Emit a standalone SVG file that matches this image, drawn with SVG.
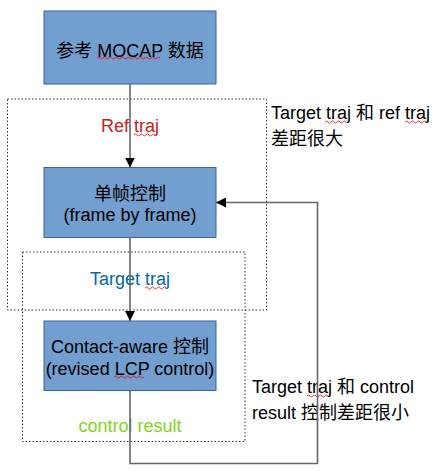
<svg xmlns="http://www.w3.org/2000/svg" width="440" height="471" viewBox="0 0 440 471">
<style>
.box{fill:#729fcf;stroke:#3465a4;stroke-width:1}
.dot{fill:none;stroke:#333;stroke-width:1;stroke-dasharray:1.5 2}
.t{font-family:"Liberation Sans","Noto Sans CJK SC",sans-serif;font-size:18px;fill:#000}
.c{text-anchor:middle}
.ln{fill:none;stroke:#666;stroke-width:1.6}
.sq{fill:none;stroke:#e00;stroke-width:0.8}
</style>
<defs>
<marker id="ah" viewBox="0 0 10 10" refX="10" refY="5" markerWidth="10" markerHeight="10" markerUnits="userSpaceOnUse" orient="auto">
<path d="M0,0 L10,5 L0,10 Z" fill="#000"/>
</marker>
</defs>
<rect x="0" y="0" width="440" height="471" fill="#fff"/>
<g id="region-ref">
<rect class="dot" x="7.5" y="99" width="259" height="211"/>
<text class="t c" x="130" y="132" style="fill:#c9211e">Ref traj</text>
<path class="sq" d="M134,135 q1.5,-2 3,0 t3,0 t3,0 t3,0 t3,0 t3,0 t3,0"/>
</g>
<g id="region-target">
<rect class="dot" x="22.5" y="252" width="222.5" height="189.5"/>
<text class="t c" x="130" y="285" style="fill:#0369a3">Target traj</text>
<text class="t c" x="130" y="432" style="fill:#81d41a">control result</text>
<path class="sq" d="M145,288 q1.5,-2 3,0 t3,0 t3,0 t3,0 t3,0 t3,0 t3,0"/>
</g>
<g id="node-mocap">
<rect class="box" x="44" y="11" width="172" height="73"/>
<text class="t c" x="130" y="57">参考 MOCAP 数据</text>
<path class="sq" d="M97,58 q1.5,-2 3,0 t3,0 t3,0 t3,0 t3,0 t3,0 t3,0 t3,0 t3,0 t3,0 t3,0 t3,0 t3,0 t3,0 t3,0 t3,0 t3,0 t3,0 t3,0 t3,0 t3,0"/>
</g>
<g id="node-frame">
<rect class="box" x="44" y="167.5" width="172" height="70"/>
<text class="t c" x="130" y="200">单帧控制</text>
<text class="t c" x="130" y="221">(frame by frame)</text>
</g>
<g id="node-lcp">
<rect class="box" x="44" y="321" width="172" height="69.5"/>
<text class="t c" x="130" y="353">Contact-aware 控制</text>
<text class="t c" x="130" y="375">(revised LCP control)</text>
<path class="sq" d="M114,377 q1.5,-2 3,0 t3,0 t3,0 t3,0 t3,0 t3,0 t3,0 t3,0 t3,0 t3,0"/>
</g>
<g id="note-top">
<text class="t" x="271" y="119">Target traj 和 ref traj</text>
<text class="t" x="271" y="145">差距很大</text>
<path class="sq" d="M325,122 q1.5,-2 3,0 t3,0 t3,0 t3,0 t3,0 t3,0 t3,0"/>
<path class="sq" d="M405,122 q1.5,-2 3,0 t3,0 t3,0 t3,0 t3,0 t3,0 t3,0"/>
</g>
<g id="note-bottom">
<text class="t" x="252" y="393">Target traj 和 control</text>
<text class="t" x="252" y="419">result 控制差距很小</text>
<path class="sq" d="M307,396 q1.5,-2 3,0 t3,0 t3,0 t3,0 t3,0 t3,0 t3,0"/>
</g>
<g id="connectors">
<path class="ln" d="M130,84 V167.5" marker-end="url(#ah)"/>
<path class="ln" d="M130,237.5 V321" marker-end="url(#ah)"/>
<path class="ln" d="M130,390.5 V463.5 H317.5 V202.5 H216" marker-end="url(#ah)"/>
</g>
</svg>
